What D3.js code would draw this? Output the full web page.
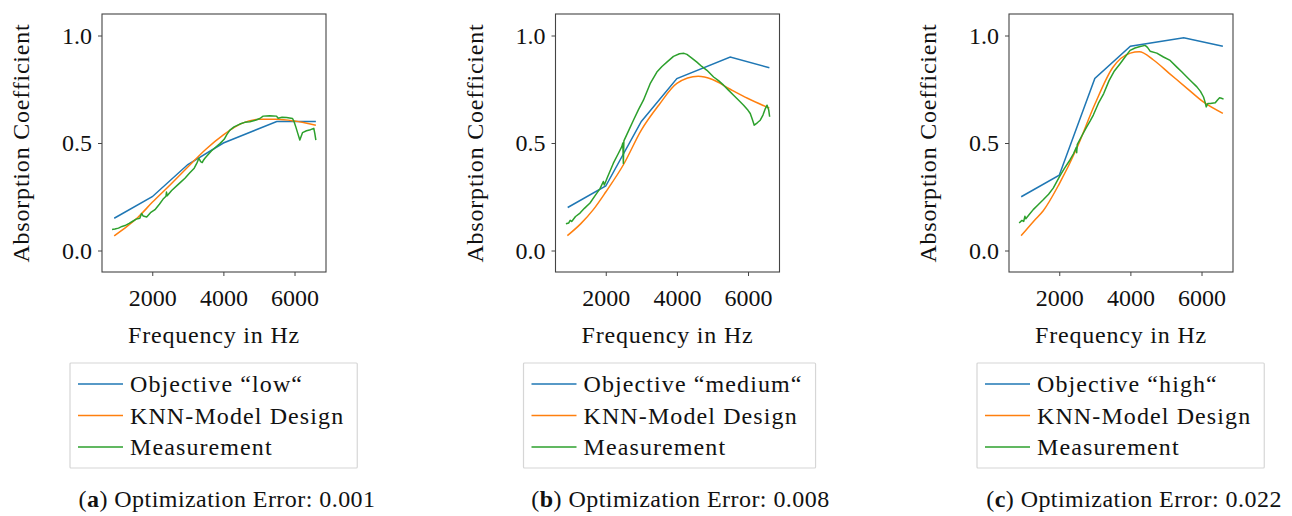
<!DOCTYPE html>
<html>
<head>
<meta charset="utf-8">
<script src="https://cdn.jsdelivr.net/npm/d3@7"></script>
<style>
  body { margin: 0; background: #fff; }
  text { font-family: "Liberation Serif", "DejaVu Serif", serif; fill: #111; }
</style>
</head>
<body>
<script>
var width = 1292, height = 516;

// objective curves (piecewise linear)
var objFreq = [930, 2000, 3000, 4000, 5500, 6600];
var objLow = [0.15, 0.25, 0.40, 0.50, 0.60, 0.60];
var objMedium = [0.20, 0.30, 0.60, 0.80, 0.90, 0.85];
var objHigh = [0.25, 0.35, 0.80, 0.95, 0.99, 0.95];

// KNN model designs
var knnFreqA = [930, 1300, 1600, 2000, 2500, 3000, 3500, 4000, 4500, 5000, 5500, 6000, 6600];
var knnA = [0.068, 0.113, 0.155, 0.224, 0.305, 0.388, 0.470, 0.538, 0.590, 0.610, 0.610, 0.602, 0.583];
var knnFreqB = [920, 1300, 1650, 2000, 2500, 3000, 3500, 4000, 4600, 5000, 5500, 6000, 6600];
var knnB = [0.069, 0.125, 0.190, 0.272, 0.400, 0.560, 0.678, 0.777, 0.810, 0.795, 0.750, 0.707, 0.662];
var knnFreqC = [930, 1300, 1550, 2000, 2500, 3000, 3500, 4000, 4250, 4650, 5100, 5600, 6050, 6600];
var knnC = [0.069, 0.140, 0.185, 0.310, 0.478, 0.680, 0.850, 0.918, 0.924, 0.886, 0.823, 0.753, 0.691, 0.638];

// measurements
var measFreqA = [870, 950, 1050, 1150, 1233, 1350, 1450, 1550, 1650, 1700, 1747, 1843, 1950, 2076, 2200, 2300, 2385, 2400, 2420, 2545, 2700, 2800, 2919, 3050, 3180, 3250, 3312, 3360, 3405, 3440, 3480, 3560, 3668, 3780, 3902, 4022, 4100, 4183, 4300, 4463, 4600, 4744, 4900, 5025, 5118, 5300, 5494, 5539, 5650, 5775, 5944, 5990, 6036, 6100, 6149, 6224, 6337, 6450, 6542, 6570, 6600];
var measA = [0.098, 0.100, 0.104, 0.112, 0.116, 0.126, 0.136, 0.146, 0.150, 0.172, 0.160, 0.156, 0.176, 0.190, 0.215, 0.238, 0.252, 0.272, 0.255, 0.279, 0.303, 0.318, 0.336, 0.360, 0.383, 0.405, 0.429, 0.413, 0.409, 0.420, 0.429, 0.444, 0.464, 0.480, 0.497, 0.517, 0.540, 0.560, 0.575, 0.588, 0.596, 0.599, 0.606, 0.614, 0.625, 0.627, 0.625, 0.615, 0.620, 0.619, 0.614, 0.598, 0.575, 0.540, 0.514, 0.548, 0.557, 0.562, 0.568, 0.545, 0.513];
var measFreqB = [880, 960, 1000, 1042, 1150, 1276, 1400, 1558, 1700, 1839, 1932, 1960, 2050, 2214, 2350, 2451, 2480, 2495, 2510, 2650, 2778, 2920, 3059, 3248, 3437, 3580, 3718, 3904, 4073, 4200, 4282, 4420, 4563, 4700, 4845, 5032, 5170, 5313, 5450, 5594, 5730, 5876, 6000, 6063, 6120, 6175, 6260, 6344, 6420, 6487, 6535, 6582, 6608];
var measB = [0.124, 0.128, 0.140, 0.135, 0.158, 0.174, 0.196, 0.221, 0.255, 0.288, 0.321, 0.305, 0.342, 0.406, 0.450, 0.483, 0.500, 0.405, 0.510, 0.560, 0.606, 0.655, 0.699, 0.776, 0.830, 0.856, 0.876, 0.903, 0.915, 0.917, 0.912, 0.895, 0.876, 0.856, 0.838, 0.807, 0.790, 0.769, 0.746, 0.722, 0.700, 0.676, 0.652, 0.637, 0.610, 0.583, 0.594, 0.606, 0.630, 0.660, 0.676, 0.653, 0.622];
var measFreqC = [873, 950, 1000, 1034, 1060, 1150, 1268, 1400, 1549, 1700, 1831, 1930, 2019, 2150, 2301, 2400, 2480, 2490, 2505, 2640, 2772, 2870, 2958, 3099, 3250, 3400, 3550, 3710, 3850, 3992, 4130, 4273, 4414, 4480, 4555, 4743, 4930, 5118, 5306, 5450, 5588, 5730, 5870, 5970, 6056, 6100, 6132, 6180, 6245, 6386, 6450, 6507, 6560, 6620];
var measC = [0.128, 0.140, 0.135, 0.159, 0.148, 0.166, 0.190, 0.212, 0.236, 0.262, 0.290, 0.320, 0.347, 0.383, 0.421, 0.450, 0.480, 0.455, 0.492, 0.535, 0.575, 0.603, 0.630, 0.684, 0.730, 0.790, 0.835, 0.869, 0.900, 0.931, 0.942, 0.949, 0.954, 0.945, 0.927, 0.918, 0.900, 0.884, 0.853, 0.830, 0.807, 0.784, 0.761, 0.740, 0.714, 0.690, 0.668, 0.684, 0.684, 0.687, 0.700, 0.710, 0.708, 0.704];

var xTicks = [2000, 4000, 6000];
var yTicks = [0.0, 0.5, 1.0];
var seriesNames = ["Objective", "KNN-Model Design", "Measurement"];
var colors = ["#1f77b4", "#ff7f0e", "#2ca02c"];

var panels = [
  {left: 102, tag: "a", level: "low", err: "0.001", obj: objLow,
   knnF: knnFreqA, knn: knnA, measF: measFreqA, meas: measA},
  {left: 555.5, tag: "b", level: "medium", err: "0.008", obj: objMedium,
   knnF: knnFreqB, knn: knnB, measF: measFreqB, meas: measB},
  {left: 1009, tag: "c", level: "high", err: "0.022", obj: objHigh,
   knnF: knnFreqC, knn: knnC, measF: measFreqC, meas: measC}
];

var pw = 224, plotTop = 14, ph = 258;
var fs = 24, ls = 0.8;

var svg = d3.select("body").append("svg")
  .attr("width", width).attr("height", height);

function pairs(f, v) { return f.map(function(d, i) { return [d, v[i]]; }); }

panels.forEach(function(p) {
  var x = d3.scaleLinear().domain([587, 6885]).range([0, pw]);
  var y = d3.scaleLinear().domain([-0.1, 1.1]).range([ph, 0]);

  var g = svg.append("g").attr("transform", "translate(" + p.left + "," + plotTop + ")");

  var line = d3.line().x(function(d) { return x(d[0]); }).y(function(d) { return y(d[1]); });
  var smooth = d3.line().x(function(d) { return x(d[0]); }).y(function(d) { return y(d[1]); })
    .curve(d3.curveMonotoneX);

  g.append("path").attr("d", line(pairs(objFreq, p.obj)))
    .attr("fill", "none").attr("stroke", colors[0]).attr("stroke-width", 1.5);
  g.append("path").attr("d", smooth(pairs(p.knnF, p.knn)))
    .attr("fill", "none").attr("stroke", colors[1]).attr("stroke-width", 1.5);
  g.append("path").attr("d", line(pairs(p.measF, p.meas)))
    .attr("fill", "none").attr("stroke", colors[2]).attr("stroke-width", 1.5)
    .attr("stroke-linejoin", "round");

  var xAxis = g.append("g").attr("transform", "translate(0," + ph + ")")
    .call(d3.axisBottom(x).tickValues(xTicks).tickSize(4).tickPadding(13).tickFormat(d3.format("d")));
  var yAxis = g.append("g")
    .call(d3.axisLeft(y).tickValues(yTicks).tickSize(4).tickPadding(6).tickFormat(d3.format(".1f")));
  [xAxis, yAxis].forEach(function(a) {
    a.select(".domain").remove();
    a.selectAll("line").attr("stroke", "#444");
    a.selectAll("text").attr("font-family", "Liberation Serif").attr("font-size", fs).attr("fill", "#111");
  });

  g.append("rect").attr("width", pw).attr("height", ph)
    .attr("fill", "none").attr("stroke", "#444").attr("stroke-width", 1.1);

  g.append("text").attr("x", pw / 2).attr("y", 343 - plotTop)
    .attr("text-anchor", "middle").attr("font-size", fs).attr("letter-spacing", ls)
    .text("Frequency in Hz");

  g.append("text").attr("transform", "translate(-73," + (ph / 2) + ") rotate(-90)")
    .attr("text-anchor", "middle").attr("font-size", fs).attr("letter-spacing", ls)
    .text("Absorption Coefficient");

  // legend
  var lg = svg.append("g").attr("transform", "translate(" + (p.left - 32) + ",363)");
  var box = lg.append("rect").attr("height", 105).attr("fill", "#fff")
    .attr("stroke", "#d6d6d6").attr("stroke-width", 1.2).attr("rx", 1);
  var maxW = 0;
  seriesNames.forEach(function(name, i) {
    var label = i === 0 ? name + " \u201C" + p.level + "\u201C" : name;
    var ry = 21 + i * 31.5;
    lg.append("line").attr("x1", 8).attr("x2", 53).attr("y1", ry).attr("y2", ry)
      .attr("stroke", colors[i]).attr("stroke-width", 1.5);
    var t = lg.append("text").attr("x", 60).attr("y", ry + 8).attr("font-size", fs)
      .attr("letter-spacing", 1.1).text(label);
    maxW = Math.max(maxW, t.node().getComputedTextLength());
  });
  box.attr("width", 60 + maxW + 13);

  // caption
  var cap = svg.append("text").attr("x", p.left + pw / 2 + 13).attr("y", 507)
    .attr("text-anchor", "middle").attr("font-size", fs).attr("letter-spacing", 0.45);
  cap.append("tspan").text("(");
  cap.append("tspan").attr("font-weight", "bold").text(p.tag);
  cap.append("tspan").text(") Optimization Error: " + p.err);
});
</script>
</body>
</html>
